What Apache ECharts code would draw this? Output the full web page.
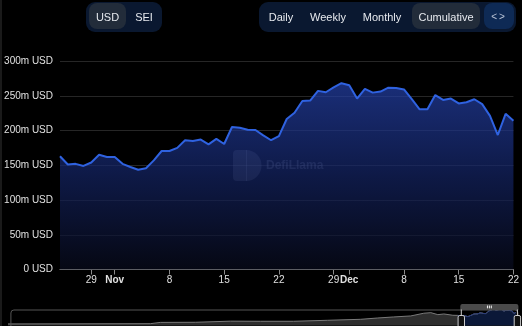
<!DOCTYPE html>
<html><head><meta charset="utf-8">
<script src="https://cdn.jsdelivr.net/npm/echarts@6/dist/echarts.min.js"></script>
<style>
html,body{margin:0;padding:0;background:#000;width:522px;height:326px;overflow:hidden;font-family:"Liberation Sans",Arial,sans-serif;}
#chart{position:absolute;left:0;top:0;width:522px;height:326px;}
.grp{position:absolute;top:2px;height:30px;border-radius:9px;background:#0a1830;}
.pill{position:absolute;top:3px;height:26px;border-radius:8px;background:#222c3a;}
.btn{position:absolute;top:2px;height:30px;line-height:30px;font-size:11px;color:#e6e9ee;transform:translateX(-50%);white-space:nowrap;}
.edge{position:absolute;left:0;top:0;width:2px;height:326px;background:#1a1a1a;}
</style></head><body>
<div id="chart"></div>
<div class="edge"></div>
<div class="grp" style="left:86px;width:76px"></div>
<div class="pill" style="left:89px;width:37px"></div>
<div class="btn" style="left:107.5px">USD</div>
<div class="btn" style="left:144px">SEI</div>
<div class="grp" style="left:259px;width:257px"></div>
<div class="pill" style="left:412px;width:68px"></div>
<div class="pill" style="left:484px;width:30px;background:#0e2a55"></div>
<div class="btn" style="left:281px">Daily</div>
<div class="btn" style="left:328px">Weekly</div>
<div class="btn" style="left:382px">Monthly</div>
<div class="btn" style="left:446px">Cumulative</div>
<div class="btn" style="left:499px;font-size:10px;letter-spacing:2px;color:#b9c4d6">&lt;&gt;</div>
<script>
// Earlier history (coarse, read from the slider overview), values in millions USD
const historyDates = ['2023-08-03','2023-12-23','2024-01-02','2024-02-06','2024-03-12','2024-04-11','2024-05-14','2024-06-17','2024-07-20','2024-08-06','2024-08-22','2024-09-08','2024-09-21','2024-09-28','2024-10-05','2024-10-11','2024-10-20'];
const historyValues = [25,29,50,52,70,68,68,84,100,121,138,154,198,207,175,186,165];
// Daily values shown in main chart: 2024-10-25 .. 2024-12-22
const dailyStart = '2024-10-25';
const dailyValues = [163,151,152,149,154,165,162,162,152,147.5,143.6,145.6,157,170.5,170.5,175,186,185,187,180,188,180.6,205,204,201,200.7,193,186,192,216.5,225.6,242.5,243,257,255,262,268,265,246,260,254.5,256,261.6,261,259,245,230.5,230.5,251,244,246,239,240.6,245,238,221,193.5,224,214];
const yTicks = [0,50,100,150,200,250,300];
const viewStart = '2024-10-25', viewEnd = '2024-12-22';

const dayMs = 86400000;
const ts = d => new Date(d + 'T00:00:00').getTime();
const d0 = ts(dailyStart);
const daily = dailyValues.map((v,i)=>[d0 + i*dayMs, v]);
const hist = historyDates.map((d,i)=>[ts(d), historyValues[i]]);
const all = hist.concat(daily);

const chart = echarts.init(document.getElementById('chart'), null, {renderer:'canvas'});
chart.setOption({
  animation:false,
  backgroundColor:'#000',
  grid:[{left:60,right:7,top:61,bottom:56.5},{left:8,right:6,top:306.9,bottom:0.5}],
  xAxis:[{
    type:'time', gridIndex:0, splitNumber:6,
    axisLine:{lineStyle:{color:'#8a8a8a'}},
    axisTick:{show:true,length:5,lineStyle:{color:'#8a8a8a'}},
    axisLabel:{color:'#e0e0e0',fontSize:10,margin:6,fontFamily:'Liberation Sans, Arial'},
    splitLine:{show:false}
  },{
    type:'time', gridIndex:1, show:false,
    min:ts(historyDates[0]),
    max:daily[daily.length-1][0]
  }],
  yAxis:[{
    type:'value', gridIndex:0, min:yTicks[0], max:yTicks[yTicks.length-1], interval:50,
    axisLine:{show:false}, axisTick:{show:false},
    axisLabel:{color:'#e0e0e0',fontSize:10,margin:7,fontFamily:'Liberation Sans, Arial',
      formatter:v=> v===0 ? '0 USD' : v+'m USD'},
    splitLine:{lineStyle:{color:'#262626',width:1}}
  },{
    type:'value', gridIndex:1, show:false, min:0, max:300
  }],
  dataZoom:[{
    type:'slider', xAxisIndex:0, filterMode:'filter',
    startValue:ts(viewStart),
    endValue:ts(viewEnd),
    left:8, right:6, top:304, height:32,
    showDataShadow:false, showDetail:false,
    borderColor:'#555', borderRadius:3,
    backgroundColor:'rgba(0,0,0,0)',
    fillerColor:'rgba(0,0,0,0)',
    handleStyle:{color:'#111',borderColor:'#cfcfcf',borderWidth:1},
    moveHandleSize:6,
    moveHandleStyle:{color:'#4a4a4a',opacity:1},
    emphasis:{moveHandleStyle:{color:'#4a4a4a'}}
  }],
  graphic:[
    {type:'rect', z:1, shape:{x:233,y:150,width:14,height:31,r:[4,0,0,4]}, style:{fill:'rgba(200,205,220,0.2)'}},
    {type:'sector', z:1, shape:{cx:246,cy:165.5,r:15.5,r0:0,startAngle:-Math.PI/2,endAngle:Math.PI/2}, style:{fill:'rgba(200,205,220,0.2)'}},
    {type:'text', z:1, x:266, y:160, style:{text:'DefiLlama',fill:'rgba(210,215,230,0.25)',font:'bold 12px "Liberation Sans", Arial'}}
  ],
  series:[{
    type:'line', xAxisIndex:0, yAxisIndex:0, data:all, symbol:'none', z:3,
    lineStyle:{color:'#2f62e0',width:2},
    areaStyle:{color:{type:'linear',x:0,y:0,x2:0,y2:1,colorStops:[
      {offset:0,color:'rgba(37,66,172,1)'},
      {offset:0.5,color:'rgba(20,36,100,1)'},
      {offset:1,color:'rgba(8,11,28,1)'}]}}
  },{
    type:'line', xAxisIndex:1, yAxisIndex:1, data:all, symbol:'none', silent:true,
    lineStyle:{color:'#7a7a7a',width:1}, areaStyle:{color:'#2e2e2e',opacity:1}
  },{
    type:'line', xAxisIndex:1, yAxisIndex:1, data:daily, symbol:'none', silent:true,
    lineStyle:{color:'#26397a',width:1}, areaStyle:{color:'#0b1838',opacity:1}
  }]
});
</script>
</body></html>
